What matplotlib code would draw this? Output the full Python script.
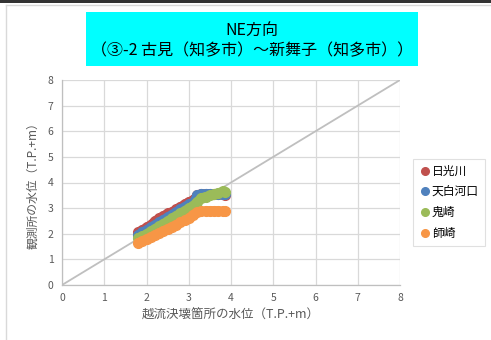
import matplotlib.pyplot as plt
from matplotlib.patches import Rectangle
from matplotlib.lines import Line2D

plt.rcParams['font.family'] = ['Noto Sans CJK JP', 'DejaVu Sans']

# water level at the breach point (x) vs. observation station (y)
x_vals = [1.8, 1.9, 2.0, 2.1, 2.2, 2.3, 2.4, 2.5, 2.6, 2.7, 2.8, 2.9, 3.0,
          3.1, 3.2, 3.3, 3.4, 3.5, 3.6, 3.7, 3.8, 3.85]
nikkogawa = [2.05, 2.15, 2.25, 2.35, 2.5, 2.6, 2.7, 2.8, 2.85, 2.95, 3.05,
             3.15, 3.25, 3.3, 3.5, 3.55, 3.55, 3.55, 3.55, 3.55, 3.55, 3.5]
tempaku = [1.95, 2.05, 2.15, 2.25, 2.35, 2.45, 2.55, 2.65, 2.75, 2.85, 2.95,
           3.05, 3.15, 3.2, 3.5, 3.55, 3.55, 3.55, 3.55, 3.55, 3.55, 3.55]
onizaki = [1.85, 1.9, 2.0, 2.1, 2.2, 2.3, 2.4, 2.5, 2.6, 2.7, 2.8, 2.9, 3.0,
           3.1, 3.25, 3.4, 3.45, 3.5, 3.55, 3.6, 3.65, 3.63]
morozaki = [1.65, 1.72, 1.8, 1.88, 1.96, 2.04, 2.12, 2.2, 2.28, 2.36, 2.44,
            2.52, 2.6, 2.75, 2.85, 2.88, 2.9, 2.9, 2.9, 2.9, 2.88, 2.88]

names = ['日光川', '天白河口', '鬼崎', '師崎']
series = [nikkogawa, tempaku, onizaki, morozaki]
colors = ['#C0504D', '#4F81BD', '#9BBB59', '#F79646']
ticks = [0, 1, 2, 3, 4, 5, 6, 7, 8]

fig = plt.figure(figsize=(4.91, 3.40), dpi=100)
fig.patch.set_facecolor('white')

# frame bits around the chart
fig.add_artist(Rectangle((0, 1 - 3 / 340), 1, 3 / 340, transform=fig.transFigure,
                         facecolor='#333333', edgecolor='none'))
fig.add_artist(Line2D([6 / 491, 1], [1 - 5 / 340, 1 - 5 / 340],
                      transform=fig.transFigure, color='#D9D9D9', lw=1))
fig.add_artist(Line2D([6 / 491, 6 / 491], [0, 1 - 5 / 340],
                      transform=fig.transFigure, color='#D9D9D9', lw=1))

ax = fig.add_axes([62 / 491, 1 - 285 / 340, 338 / 491, 205 / 340])
ax.set_xlim(0, 8)
ax.set_ylim(0, 8)
ax.set_xticks(ticks)
ax.set_yticks(ticks)
ax.grid(True, color='#D9D9D9', lw=0.9)
ax.set_axisbelow(True)
for s in ['top', 'right']:
    ax.spines[s].set_visible(False)
for s in ['left', 'bottom']:
    ax.spines[s].set_color('#BFBFBF')
    ax.spines[s].set_linewidth(0.9)
ax.tick_params(length=0, labelsize=7.5, labelcolor='#595959', pad=6)

# 1:1 reference line
ax.plot([0, 8], [0, 8], color='#BFBFBF', lw=1.3, zorder=2)

for name, ys, c in zip(names, series, colors):
    ax.plot(x_vals, ys, color=c, lw=6.5, marker='o', markersize=7,
            solid_capstyle='round', solid_joinstyle='round', label=name, zorder=3)

ax.set_xlabel('越流決壊箇所の水位（T.P.+m）', fontsize=9, color='#595959', labelpad=4)
ax.set_ylabel('観測所の水位（T.P.+m）', fontsize=8.5, color='#595959', labelpad=6)

handles = [Line2D([], [], color=c, marker='o', lw=0, markersize=5.5) for c in colors]
leg = fig.legend(handles, names, loc='upper left', bbox_to_anchor=(413 / 491, 1 - 159 / 340),
                 fontsize=8.5, frameon=True, fancybox=False, handletextpad=0.1,
                 handlelength=1.0, labelspacing=0.65, borderpad=0.5, borderaxespad=0)
leg.get_frame().set_edgecolor('#D9D9D9')
leg.get_frame().set_linewidth(0.8)

# title banner
fig.add_artist(Rectangle((86 / 491, 1 - 66 / 340), 332 / 491, 54 / 340,
                         transform=fig.transFigure, facecolor='#00FFFF', edgecolor='none'))
fig.text(252 / 491, 1 - 30 / 340, 'NE方向', ha='center', va='center', fontsize=11.5,
         color='black')
fig.text(252 / 491, 1 - 51 / 340, '（③-2 古見（知多市）～新舞子（知多市））', ha='center', va='center',
         fontsize=11.5, color='black')

fig.savefig('out.png', dpi=100)
